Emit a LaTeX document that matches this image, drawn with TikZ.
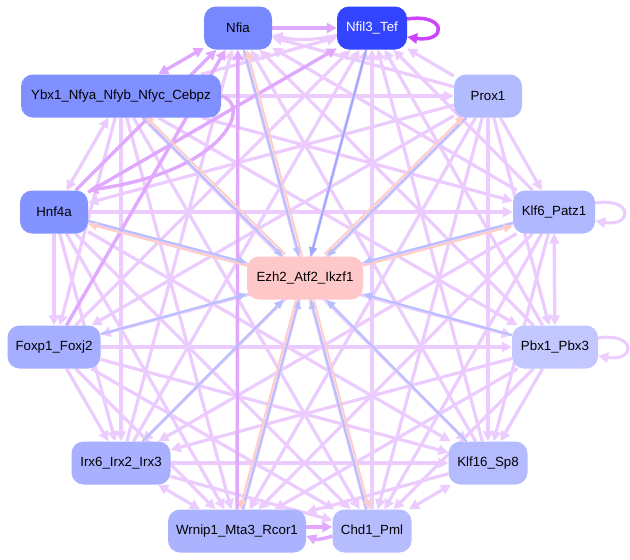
\documentclass[tikz,border=0pt]{standalone}
\usepackage{fontspec}
\setmainfont{Liberation Sans}
\usetikzlibrary{arrows.meta,backgrounds}
\definecolor{eL}{RGB}{236,204,255}
\definecolor{eD}{RGB}{224,168,255}
\definecolor{eX}{RGB}{204,68,255}
\definecolor{bL}{RGB}{182,192,255}
\definecolor{bD}{RGB}{155,170,255}
\definecolor{pk}{RGB}{255,204,200}
\definecolor{cNfil}{RGB}{51,68,255}
\definecolor{cNfia}{RGB}{119,136,255}
\definecolor{cYbx}{RGB}{128,144,255}
\definecolor{cHnf}{RGB}{131,147,255}
\definecolor{cFox}{RGB}{165,174,255}
\definecolor{cIrx}{RGB}{168,176,255}
\definecolor{cWrn}{RGB}{171,179,255}
\definecolor{cProx}{RGB}{179,187,255}
\definecolor{cKlf}{RGB}{176,184,255}
\definecolor{cPbx}{RGB}{194,199,255}
\definecolor{cKls}{RGB}{180,188,255}
\definecolor{cChd}{RGB}{181,189,255}
\definecolor{cEzh}{RGB}{255,200,200}
\begin{document}
\begin{tikzpicture}[x=1pt,y=-1pt,
  box/.style={rounded corners=12pt, minimum height=43pt, inner sep=0pt,
    font=\fontsize{13.3}{16}\selectfont, text=black},
  tipL/.tip={Triangle[length=10pt,width=10pt]},
  tipB/.tip={Triangle[length=9pt,width=8pt]},
  el/.style={draw=eL, line width=3.2pt, -tipL},
  elb/.style={draw=eL, line width=3.2pt, tipL-tipL},
  edk/.style={draw=eD, line width=3.4pt, -tipL},
  edkb/.style={draw=eD, line width=3.4pt, tipL-tipL},
  eblue/.style={draw=bL, line width=2pt, -tipB},
  ebluedk/.style={draw=bD, line width=2pt, -tipB},
  epink/.style={draw=pk, line width=2pt, -tipB},
  sloop/.style={draw=eL, line width=3pt, -tipL},
  dloop/.style={draw=eX, line width=3.5pt, -tipL}]
\useasboundingbox (0,0) rectangle (630,560);
% nodes
\node[box, fill=cNfia, minimum width=68pt] (nfia) at (238,28) {Nfia};
\node[box, fill=cNfil, minimum width=70pt, text=white] (nfil) at (372,28) {Nfil3\_Tef};
\node[box, fill=cYbx, minimum width=200pt] (ybx) at (121,96) {Ybx1\_Nfya\_Nfyb\_Nfyc\_Cebpz};
\node[box, fill=cProx, minimum width=68pt] (prox) at (488,96) {Prox1};
\node[box, fill=cHnf, minimum width=68pt] (hnf) at (54,212) {Hnf4a};
\node[box, fill=cKlf, minimum width=82pt] (klf6) at (554,212) {Klf6\_Patz1};
\node[box, fill=cEzh, minimum width=116pt] (ezh) at (305,278) {Ezh2\_Atf2\_Ikzf1};
\node[box, fill=cFox, minimum width=93pt] (foxp) at (54,347) {Foxp1\_Foxj2};
\node[box, fill=cPbx, minimum width=86pt] (pbx) at (555,347) {Pbx1\_Pbx3};
\node[box, fill=cIrx, minimum width=99pt] (irx) at (121,463) {Irx6\_Irx2\_Irx3};
\node[box, fill=cKls, minimum width=79pt] (klf16) at (488,463) {Klf16\_Sp8};
\node[box, fill=cWrn, minimum width=138pt] (wrn) at (237,531) {Wrnip1\_Mta3\_Rcor1};
\node[box, fill=cChd, minimum width=79pt] (chd) at (372,531) {Chd1\_Pml};
\begin{pgfonlayer}{background}
\fill[white] (0,0) rectangle (630,560);
% light edges among the outer nodes
\foreach \a/\b in {prox/nfia, klf6/nfia, pbx/nfia, irx/nfia, klf16/nfia, chd/nfia,
  ybx/nfil, prox/nfil, klf6/nfil, foxp/nfil, pbx/nfil, irx/nfil, klf16/nfil, wrn/nfil, chd/nfil,
  ybx/prox, ybx/klf6, ybx/foxp, ybx/pbx, ybx/klf16, ybx/wrn, ybx/chd, ybx/irx,
  prox/hnf, prox/klf6, prox/foxp, prox/pbx, prox/irx, prox/klf16, prox/wrn, prox/chd,
  hnf/klf6, hnf/foxp, hnf/pbx, hnf/irx, hnf/klf16, hnf/wrn, hnf/chd,
  klf6/foxp, klf6/irx, klf6/klf16, klf6/wrn, klf6/chd,
  foxp/pbx, foxp/irx, foxp/klf16, foxp/wrn, foxp/chd,
  pbx/irx, pbx/klf16, pbx/wrn, pbx/chd,
  irx/klf16, irx/chd, klf16/wrn}
  \draw[el] (\a) -- (\b);
\foreach \a/\b in {ybx/hnf, klf6/pbx, irx/wrn, klf16/chd}
  \draw[elb] (\a) -- (\b);
\draw[el] (nfil) to[bend left=12] (nfia);
% darker edges
\draw[edk] (nfia) -- (nfil);
\draw[edkb] (ybx) -- (nfia);
\draw[edk] (hnf) -- (nfia);
\draw[edk] (foxp) -- (nfia);
\draw[edk] (wrn) -- (nfia);
\draw[edk] (hnf) -- (nfil);
\draw[edk] (ybx.east) .. controls (252,104) and (228,170) .. (hnf.north east);
\draw[edk] ([yshift=4pt]wrn.east) -- ([yshift=4pt]chd.west);
\draw[edk] ([yshift=-5pt]chd.west) to[bend left=20] ([yshift=-5pt]wrn.east);
% self loops
\draw[dloop] ([yshift=9pt]nfil.east) .. controls +(40,-6) and +(40,6) .. ([yshift=-9pt]nfil.east);
\draw[sloop] ([yshift=9pt]klf6.east) .. controls +(38,-6) and +(38,6) .. ([yshift=-9pt]klf6.east);
\draw[sloop] ([yshift=9pt]pbx.east) .. controls +(38,-6) and +(38,6) .. ([yshift=-9pt]pbx.east);
% edges to the centre
\foreach \a in {nfia, ybx, prox, hnf, klf6, foxp, pbx, irx, klf16, wrn, chd}
  \draw[eblue] (\a) -- (ezh);
\draw[ebluedk] (nfil) -- (ezh);
\foreach \a/\sx/\sy in {nfia/3/0, ybx/2/-2, prox/-2/-2, hnf/0/3, klf6/0/3, wrn/-3/0, chd/3/0}
  \draw[epink, transform canvas={shift={(\sx,\sy)}}] (ezh) -- (\a);
\end{pgfonlayer}
\end{tikzpicture}
\end{document}
